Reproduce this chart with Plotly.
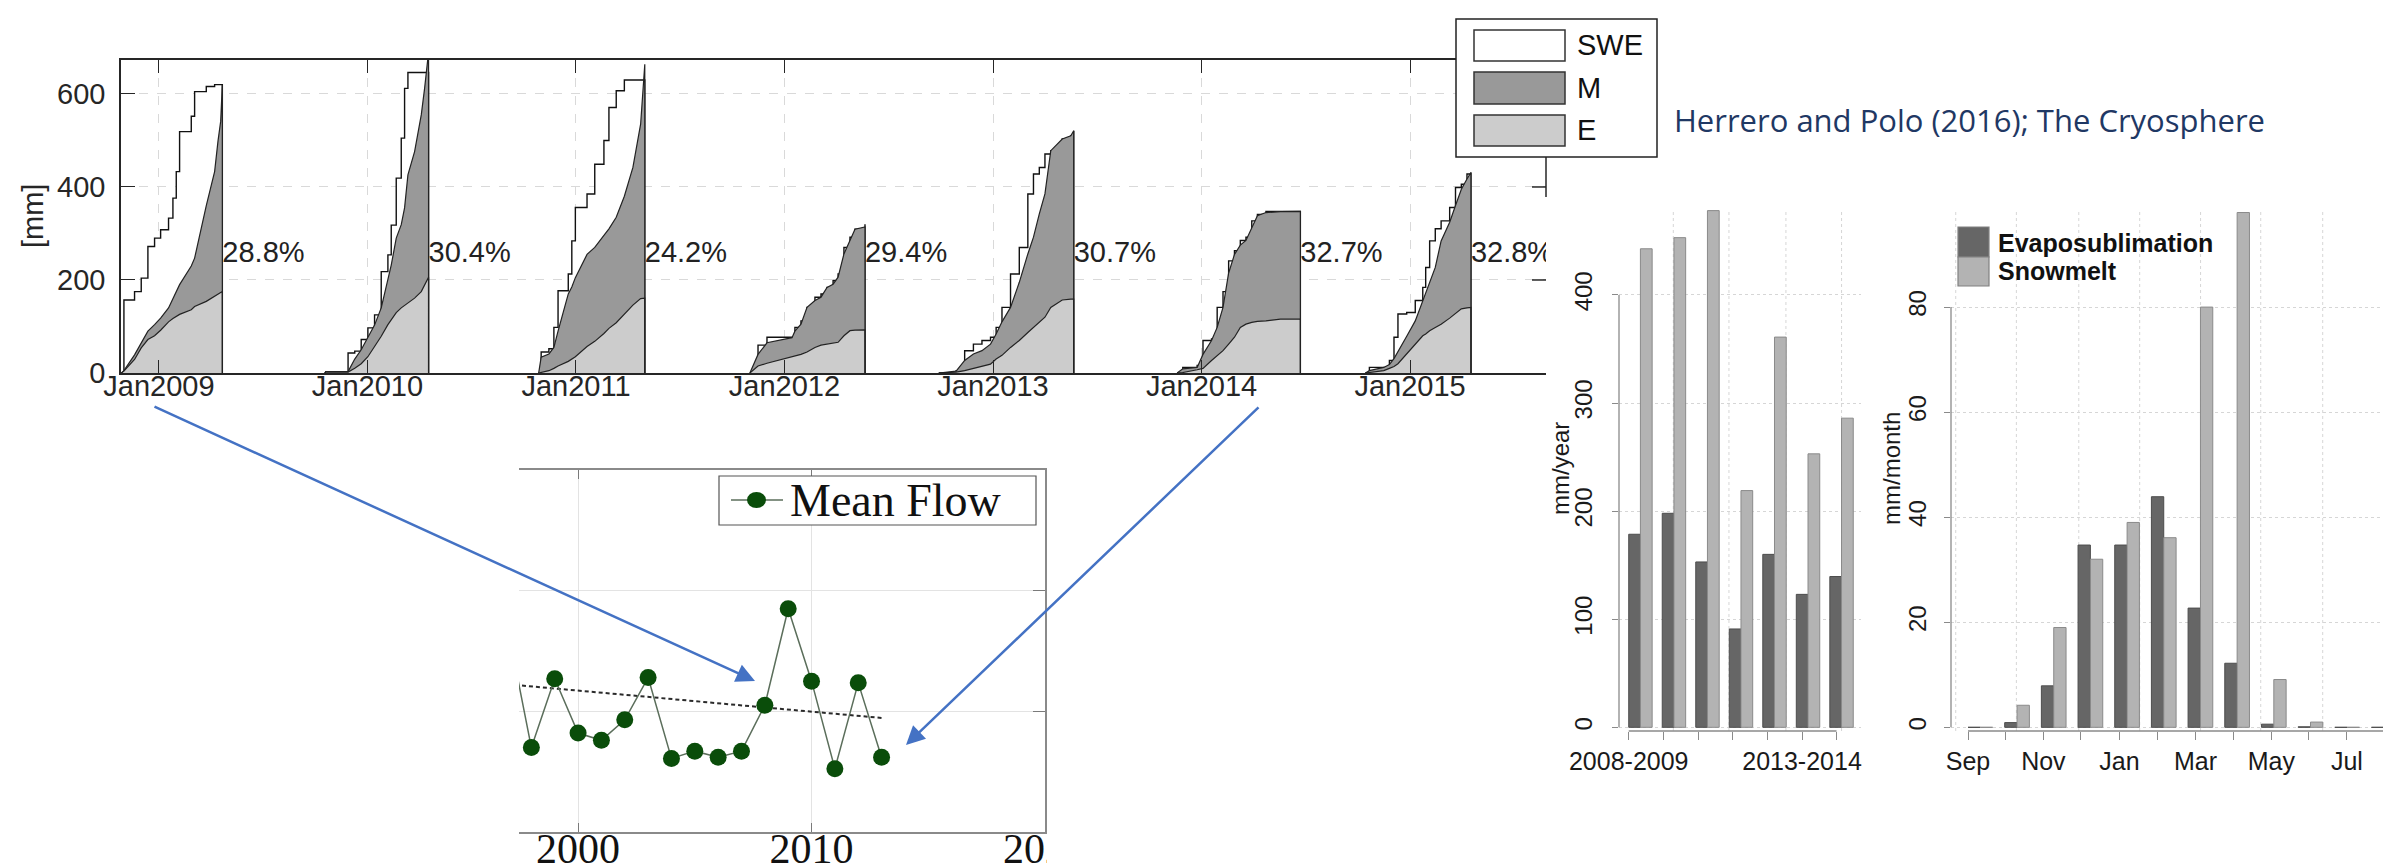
import plotly.graph_objects as go

W, H = 2391, 864

# ---------------- Top panel: cumulative SWE / M / E per season (decimal years, mm) -------------
t2009 = [2008.819, 2008.832, 2008.883, 2008.915, 2008.947, 2008.979, 2009.008, 2009.046, 2009.067,
         2009.083, 2009.099, 2009.155, 2009.171, 2009.227, 2009.267, 2009.283, 2009.296, 2009.304]
swe2009 = [0, 157, 175, 204, 272, 290, 308, 333, 376, 433, 519, 552, 605, 616, 620, 620, 620, 620]
me2009 = [0, 5, 39, 64, 90, 104, 118, 140, 160, 176, 190, 230, 247, 360, 433, 498, 541, 620]
e2009 = [0, 4, 29, 54, 72, 80, 92, 110, 117, 121, 126, 136, 143, 154, 166, 170, 173, 175]

t2010 = [2009.795, 2009.800, 2009.907, 2009.939, 2009.970, 2010.002, 2010.034, 2010.066, 2010.098,
         2010.114, 2010.138, 2010.162, 2010.178, 2010.194, 2010.226, 2010.258, 2010.274, 2010.293]
swe2010 = [0, 3, 43, 47, 72, 97, 125, 218, 254, 318, 419, 505, 612, 646, 646, 646, 646, 646]
me2010 = [0, 3, 3, 30, 50, 75, 103, 140, 204, 232, 290, 319, 355, 426, 476, 555, 612, 690]
e2010 = [0, 2, 2, 10, 20, 35, 57, 79, 104, 114, 130, 140, 145, 150, 161, 175, 190, 206]

t2011 = [2010.821, 2010.833, 2010.870, 2010.894, 2010.914, 2010.963, 2010.980, 2010.997, 2011.053,
         2011.090, 2011.134, 2011.158, 2011.193, 2011.232, 2011.273, 2011.310, 2011.330]
swe2011 = [0, 45, 52, 98, 177, 213, 284, 356, 385, 449, 500, 571, 607, 630, 630, 630, 630]
me2011 = [0, 34, 41, 55, 90, 170, 185, 205, 255, 270, 296, 310, 335, 380, 442, 535, 664]
e2011 = [0, 1, 5, 10, 15, 25, 30, 35, 57, 68, 85, 96, 108, 126, 146, 160, 161]

t2012 = [2011.834, 2011.873, 2011.916, 2012.036, 2012.050, 2012.079, 2012.108, 2012.146, 2012.175,
         2012.204, 2012.233, 2012.257, 2012.285, 2012.314, 2012.338, 2012.386]
swe2012 = [0, 60, 77, 77, 98, 112, 141, 163, 170, 184, 199, 213, 270, 292, 309, 320]
me2012 = [0, 40, 65, 76, 90, 105, 141, 156, 163, 184, 191, 206, 256, 284, 309, 314]
e2012 = [0, 15, 21, 34, 37, 40, 45, 55, 60, 62, 64, 66, 80, 91, 92, 92.5]

t2013 = [2012.740, 2012.823, 2012.864, 2012.906, 2012.947, 2012.988, 2013.015, 2013.043, 2013.084,
         2013.126, 2013.167, 2013.194, 2013.222, 2013.249, 2013.277, 2013.332, 2013.373, 2013.387]
swe2013 = [0, 5, 48, 62, 70, 77, 98, 141, 213, 270, 385, 428, 442, 471, 478, 503, 510, 521]
me2013 = [0, 4, 27, 41, 48, 62, 84, 110, 141, 195, 256, 292, 342, 385, 478, 503, 510, 521]
e2013 = [0, 2, 5, 10, 14, 19, 30, 38, 55, 70, 87, 98, 109, 120, 141, 157, 159, 159]

t2014 = [2013.883, 2013.910, 2013.979, 2014.007, 2014.048, 2014.075, 2014.103, 2014.130, 2014.158,
         2014.186, 2014.213, 2014.241, 2014.268, 2014.309, 2014.378, 2014.474]
swe2014 = [0, 12, 16, 70, 73, 141, 175, 241, 263, 285, 292, 327, 341, 347.5, 347.5, 347.5]
me2014 = [0, 9, 12, 40, 70, 98, 141, 215, 255, 275, 285, 313, 338, 345, 347, 347.5]
e2014 = [0, 1, 7, 10, 27, 37, 48, 62, 77, 98, 105, 109, 111, 112, 116, 116]

t2015 = [2014.786, 2014.805, 2014.874, 2014.901, 2014.923, 2014.942, 2014.984, 2015.025, 2015.061,
         2015.075, 2015.094, 2015.121, 2015.149, 2015.190, 2015.218, 2015.246, 2015.273, 2015.292]
swe2015 = [0, 12, 12, 27, 77, 127, 130, 156, 184, 227, 284, 310, 327, 356, 399, 406, 428, 431]
me2015 = [0, 5, 12, 18, 31, 45, 79, 112, 155, 172, 191, 227, 284, 324, 360, 395, 417, 431]
e2015 = [0, 1, 5, 10, 14, 20, 41, 62, 80, 84, 91, 98, 105, 118, 127, 138, 140, 141]

e_percent = ["28.8%", "30.4%", "24.2%", "29.4%", "30.7%", "32.7%", "32.8%"]
top_tick_years = [2009, 2010, 2011, 2012, 2013, 2014, 2015]
top_tick_text = ["Jan2009", "Jan2010", "Jan2011", "Jan2012", "Jan2013", "Jan2014", "Jan2015"]

# ---------------- Middle panel: Mean Flow -------------
flow_years = [1997, 1998, 1999, 2000, 2001, 2002, 2003, 2004, 2005, 2006, 2007, 2008, 2009, 2010,
              2011, 2012, 2013]
flow_vals = [1.68, 0.70, 1.27, 0.82, 0.76, 0.93, 1.28, 0.61, 0.67, 0.62, 0.67, 1.05, 1.85, 1.25,
             0.525, 1.236, 0.62]
trend_years = [1997, 2013]
trend_vals = [1.224, 0.945]

# ---------------- Right panels: bar charts -------------
year_labels = ["2008-2009", "", "", "", "", "2013-2014", ""]
evap_year = [178.6, 198, 153, 91, 160, 123, 139.5]
melt_year = [442.7, 453, 478, 219, 361, 253, 286]

month_labels = ["Sep", "", "Nov", "", "Jan", "", "Mar", "", "May", "", "Jul", ""]
evap_month = [0, 0.9, 7.9, 34.7, 34.7, 43.9, 22.7, 12.2, 0.6, 0.1, 0, 0]
melt_month = [0, 4.2, 19.0, 32.0, 39.0, 36.1, 80.0, 98.0, 9.1, 1.0, 0, 0]

# ---------------- styling / layout helpers -------------
SANS = "Liberation Sans, Arial, sans-serif"
SERIF = "Liberation Serif, Times New Roman, serif"
M_COL = "#999999"
E_COL = "#cccccc"
DARK_BAR = "#666666"
LIGHT_BAR = "#b3b3b3"
ARROW = "#4472C4"


def px(x):
    return x / W


def py(y):
    return 1 - y / H


fig = go.Figure()

# top panel traces
seasons = [(t2009, swe2009, me2009, e2009), (t2010, swe2010, me2010, e2010),
           (t2011, swe2011, me2011, e2011), (t2012, swe2012, me2012, e2012),
           (t2013, swe2013, me2013, e2013), (t2014, swe2014, me2014, e2014),
           (t2015, swe2015, me2015, e2015)]
season_end = []
for t, swe, me, e in seasons:
    xt = t + [t[-1]]
    season_end.append(t[-1])
    fig.add_trace(go.Scatter(x=xt, y=swe + [0], mode="lines", xaxis="x", yaxis="y",
                             line=dict(color="#111111", width=1.4, shape="hv"),
                             fill="tozeroy", fillcolor="white", showlegend=False, hoverinfo="skip"))
    fig.add_trace(go.Scatter(x=xt, y=e + [0], mode="lines", xaxis="x", yaxis="y",
                             line=dict(color="#222222", width=1.2),
                             fill="tozeroy", fillcolor=E_COL, showlegend=False, hoverinfo="skip"))
    fig.add_trace(go.Scatter(x=xt, y=me + [0], mode="lines", xaxis="x", yaxis="y",
                             line=dict(color="#222222", width=1.2),
                             fill="tonexty", fillcolor=M_COL, showlegend=False, hoverinfo="skip"))

pct_y = 255
fig.add_trace(go.Scatter(x=season_end, y=[pct_y] * len(season_end), mode="text", text=e_percent,
                         textposition="middle right", xaxis="x", yaxis="y", cliponaxis=True,
                         textfont=dict(family=SANS, size=29, color="#222222"),
                         showlegend=False, hoverinfo="skip"))

# middle panel
fig.add_trace(go.Scatter(x=trend_years, y=trend_vals, mode="lines", xaxis="x2", yaxis="y2",
                         line=dict(color="#2a2a2a", width=2, dash="4px,3px"),
                         showlegend=False, hoverinfo="skip"))
fig.add_trace(go.Scatter(x=flow_years, y=flow_vals, mode="lines+markers", xaxis="x2", yaxis="y2",
                         line=dict(color="#5b6e5b", width=1.5),
                         marker=dict(size=17, color="#0a4d0a", line=dict(width=0)),
                         showlegend=False, hoverinfo="skip"))

# right bar charts
yr_idx = list(range(len(evap_year)))
fig.add_trace(go.Bar(x=[i + 0.175 for i in yr_idx], y=evap_year, width=0.35, xaxis="x3", yaxis="y3",
                     marker=dict(color=DARK_BAR, line=dict(color="#4d4d4d", width=1)),
                     showlegend=False, hoverinfo="skip"))
fig.add_trace(go.Bar(x=[i + 0.524 for i in yr_idx], y=melt_year, width=0.35, xaxis="x3", yaxis="y3",
                     marker=dict(color=LIGHT_BAR, line=dict(color="#8a8a8a", width=1)),
                     showlegend=False, hoverinfo="skip"))
mo_idx = list(range(len(evap_month)))
fig.add_trace(go.Bar(x=[i + 0.168 for i in mo_idx], y=evap_month, width=0.336, xaxis="x4", yaxis="y4",
                     marker=dict(color=DARK_BAR, line=dict(color="#4d4d4d", width=1)),
                     showlegend=False, hoverinfo="skip"))
fig.add_trace(go.Bar(x=[i + 0.505 for i in mo_idx], y=melt_month, width=0.336, xaxis="x4", yaxis="y4",
                     marker=dict(color=LIGHT_BAR, line=dict(color="#8a8a8a", width=1)),
                     showlegend=False, hoverinfo="skip"))

# R-style axis tick positions
year_ticks = [0, 1.035, 2.07, 3.1, 4.135, 5.17, 6.2]
month_ticks = [0, 1.018, 2.055, 3.073, 4.127, 5.164, 6.2, 7.227, 8.27, 9.29, 10.33, 11.36]
grid1_x = [1.33, 2.99, 4.69, 6.35]
grid2_x = [-0.335, 1.318, 3.02, 4.68, 6.34, 7.98, 9.67, 11.34]

AX_TXT = "#262626"
layout = dict(
    width=W, height=H, margin=dict(l=0, r=0, t=0, b=0, pad=0), template="none",
    paper_bgcolor="white", plot_bgcolor="rgba(0,0,0,0)",
    barmode="overlay", hovermode=False,
    xaxis=dict(domain=[px(113), px(1538)], range=[2008.818, 2015.652], anchor="y", automargin=False,
               tickvals=top_tick_years, ticktext=top_tick_text, ticks="inside", ticklen=13,
               tickcolor=AX_TXT, showline=True, linecolor=AX_TXT, linewidth=1.5, mirror="ticks",
               showgrid=True, gridcolor="#d9d9d9", griddash="dash", gridwidth=1, zeroline=False,
               tickfont=dict(family=SANS, size=29, color=AX_TXT), ticklabelstandoff=-14),
    yaxis=dict(domain=[py(365), py(52)], range=[0, 673], anchor="x", automargin=False,
               tickvals=[0, 200, 400, 600], ticks="inside", ticklen=14, tickcolor=AX_TXT,
               showline=True, linecolor=AX_TXT, linewidth=1.5,
               showgrid=True, gridcolor="#d9d9d9", griddash="dash", zeroline=False,
               tickfont=dict(family=SANS, size=29, color=AX_TXT), ticklabelstandoff=8),
    xaxis2=dict(domain=[px(511), px(1037)], range=[1997.47, 2020], anchor="y2", automargin=False,
                tickvals=[2000, 2010, 2020], ticks="inside", ticklen=9, tickcolor="#7a7a7a",
                showline=True, linecolor="#8a8a8a", linewidth=1.5, mirror="ticks",
                showgrid=True, gridcolor="#e3e3e3", zeroline=False,
                tickfont=dict(family=SERIF, size=42, color="#111111"), ticklabelstandoff=-21),
    yaxis2=dict(domain=[py(824), py(462)], range=[0, 3], anchor="x2", side="right", automargin=False,
                tickvals=[1, 2], ticks="inside", ticklen=12, tickcolor="#7a7a7a",
                showline=True, linecolor="#8a8a8a", linewidth=1.5, showticklabels=False,
                showgrid=True, gridcolor="#e3e3e3", zeroline=False),
    xaxis3=dict(domain=[px(1611), px(1853)], range=[-0.29, 6.93], anchor="y3", automargin=False,
                tickvals=year_ticks, ticktext=year_labels, ticks="outside", ticklen=8,
                tickcolor="#8a8a8a", showline=False, showgrid=False, zeroline=False,
                tickfont=dict(family=SANS, size=25, color="#1a1a1a"), ticklabelstandoff=0),
    yaxis3=dict(domain=[py(723), py(201)], range=[-3.4, 479.5], anchor="x3", automargin=False,
                tickvals=[0, 100, 200, 300, 400], ticks="outside", ticklen=6, tickcolor="#8a8a8a",
                tickangle=-90, showline=False, showgrid=True, gridcolor="#d6d6d6", griddash="dot",
                zeroline=False, tickfont=dict(family=SANS, size=24, color="#1a1a1a"),
                ticklabelstandoff=10),
    xaxis4=dict(domain=[px(1943), 1.0], range=[-0.464, 11.75], anchor="y4", automargin=False,
                tickvals=month_ticks, ticktext=month_labels, ticks="outside", ticklen=8,
                tickcolor="#8a8a8a", showline=False, showgrid=False, zeroline=False,
                tickfont=dict(family=SANS, size=25, color="#1a1a1a"), ticklabelstandoff=0),
    yaxis4=dict(domain=[py(723), py(204)], range=[-0.7, 98.1], anchor="x4", automargin=False,
                tickvals=[0, 20, 40, 60, 80], ticks="outside", ticklen=6, tickcolor="#8a8a8a",
                tickangle=-90, showline=False, showgrid=True, gridcolor="#d6d6d6", griddash="dot",
                zeroline=False, tickfont=dict(family=SANS, size=24, color="#1a1a1a"),
                ticklabelstandoff=8),
)
fig.update_layout(**layout)

shapes = []
# vertical dotted grid lines of the R panels
for g in grid1_x:
    shapes.append(dict(type="line", xref="x3", yref="y3 domain", x0=g, x1=g, y0=0, y1=1,
                       line=dict(color="#d6d6d6", width=1, dash="dot"), layer="below"))
for g in grid2_x:
    shapes.append(dict(type="line", xref="x4", yref="y4 domain", x0=g, x1=g, y0=0, y1=1,
                       line=dict(color="#d6d6d6", width=1, dash="dot"), layer="below"))
# R-style axis lines (span tick range only)
shapes += [
    dict(type="line", xref="x3 domain", yref="y3", x0=0, x1=0, y0=0, y1=400,
         line=dict(color="#8a8a8a", width=1.3)),
    dict(type="line", xref="x3", yref="y3 domain", x0=year_ticks[0], x1=year_ticks[-1], y0=0, y1=0,
         line=dict(color="#8a8a8a", width=1.3)),
    dict(type="line", xref="x4 domain", yref="y4", x0=0, x1=0, y0=0, y1=80,
         line=dict(color="#8a8a8a", width=1.3)),
    dict(type="line", xref="x4", yref="y4 domain", x0=month_ticks[0], x1=month_ticks[-1], y0=0, y1=0,
         line=dict(color="#8a8a8a", width=1.3)),
]
# visible fragment of the top panel's right border and ticks
shapes += [
    dict(type="line", xref="paper", yref="paper", x0=px(1538), x1=px(1538), y0=py(149), y1=py(189),
         line=dict(color=AX_TXT, width=1.5)),
    dict(type="line", xref="paper", yref="y", x0=px(1524), x1=px(1538), y0=400, y1=400,
         line=dict(color=AX_TXT, width=1.5)),
    dict(type="line", xref="paper", yref="y", x0=px(1524), x1=px(1538), y0=200, y1=200,
         line=dict(color=AX_TXT, width=1.5)),
]
# crop effects of the original composite
shapes += [
    dict(type="rect", xref="paper", yref="paper", x0=px(40), x1=px(1545), y0=py(430), y1=py(399),
         fillcolor="white", line=dict(width=0), layer="above"),
    dict(type="rect", xref="paper", yref="paper", x0=px(1039), x1=px(1120), y0=py(864), y1=py(826),
         fillcolor="white", line=dict(width=0), layer="above"),
]
# top legend box
shapes += [
    dict(type="rect", xref="paper", yref="paper", x0=px(1448), x1=px(1649), y0=py(149), y1=py(11),
         fillcolor="white", line=dict(color="#222222", width=1.5), layer="above"),
    dict(type="rect", xref="paper", yref="paper", x0=px(1466), x1=px(1557), y0=py(53), y1=py(22),
         fillcolor="white", line=dict(color="#333333", width=1.5), layer="above"),
    dict(type="rect", xref="paper", yref="paper", x0=px(1466), x1=px(1557), y0=py(96), y1=py(64),
         fillcolor=M_COL, line=dict(color="#333333", width=1.5), layer="above"),
    dict(type="rect", xref="paper", yref="paper", x0=px(1466), x1=px(1557), y0=py(138), y1=py(107),
         fillcolor=E_COL, line=dict(color="#333333", width=1.5), layer="above"),
]
# Mean Flow legend box
shapes += [
    dict(type="rect", xref="paper", yref="paper", x0=px(711), x1=px(1028), y0=py(517), y1=py(468),
         fillcolor="white", line=dict(color="#555555", width=1.2), layer="above"),
    dict(type="line", xref="paper", yref="paper", x0=px(723), x1=px(775), y0=py(492), y1=py(492),
         line=dict(color="#5b6e5b", width=1.5), layer="above"),
    dict(type="circle", xref="paper", yref="paper", x0=px(739), x1=px(758), y0=py(500), y1=py(484),
         fillcolor="#0a4d0a", line=dict(width=0), layer="above"),
]
# monthly chart legend
shapes += [
    dict(type="rect", xref="paper", yref="paper", x0=px(1950), x1=px(1981), y0=py(249), y1=py(219),
         fillcolor=DARK_BAR, line=dict(color="#808080", width=1.2), layer="above"),
    dict(type="rect", xref="paper", yref="paper", x0=px(1950), x1=px(1981), y0=py(278), y1=py(249),
         fillcolor=LIGHT_BAR, line=dict(color="#808080", width=1.2), layer="above"),
]
fig.update_layout(shapes=shapes)

ann = []


def text_ann(x, y, s, size, family=SANS, color="#222222", xanchor="left", angle=0, bold=False):
    t = f"<b>{s}</b>" if bold else s
    return dict(x=px(x), y=py(y), xref="paper", yref="paper", text=t, showarrow=False,
                xanchor=xanchor, yanchor="middle", textangle=angle,
                font=dict(family=family, size=size, color=color))


ann.append(text_ann(25, 208, "[mm]", 29, xanchor="center", angle=-90, color=AX_TXT))
ann.append(text_ann(1567, 37, "SWE", 29, color="#111111"))
ann.append(text_ann(1567, 80, "M", 29, color="#111111"))
ann.append(text_ann(1567, 122, "E", 29, color="#111111"))
ann.append(text_ann(1664, 112, "Herrero and Polo (2016); The Cryosphere", 31,
                    family="Open Sans, sans-serif", color="#1F3864"))
ann.append(text_ann(780, 492, "Mean Flow", 46, family=SERIF, color="#111111"))
ann.append(text_ann(1553, 461, "mm/year", 24, xanchor="center", angle=-90, color="#1a1a1a"))
ann.append(text_ann(1884, 461, "mm/month", 24, xanchor="center", angle=-90, color="#1a1a1a"))
ann.append(text_ann(1988, 235, "Evaposublimation", 25, color="#111111", bold=True))
ann.append(text_ann(1988, 263, "Snowmelt", 25, color="#111111", bold=True))

# blue arrows linking the panels
for (tx, ty), (hx, hy) in [((145, 398), (747, 673)), ((1252, 398), (898, 737))]:
    ann.append(dict(x=px(hx), y=py(hy), xref="paper", yref="paper", text="", showarrow=True,
                    ax=tx - hx, ay=ty - hy, axref="pixel", ayref="pixel",
                    arrowhead=2, arrowsize=1.5, arrowwidth=2.5, arrowcolor=ARROW, standoff=0))
fig.update_layout(annotations=ann)

fig.write_html("out.html")
